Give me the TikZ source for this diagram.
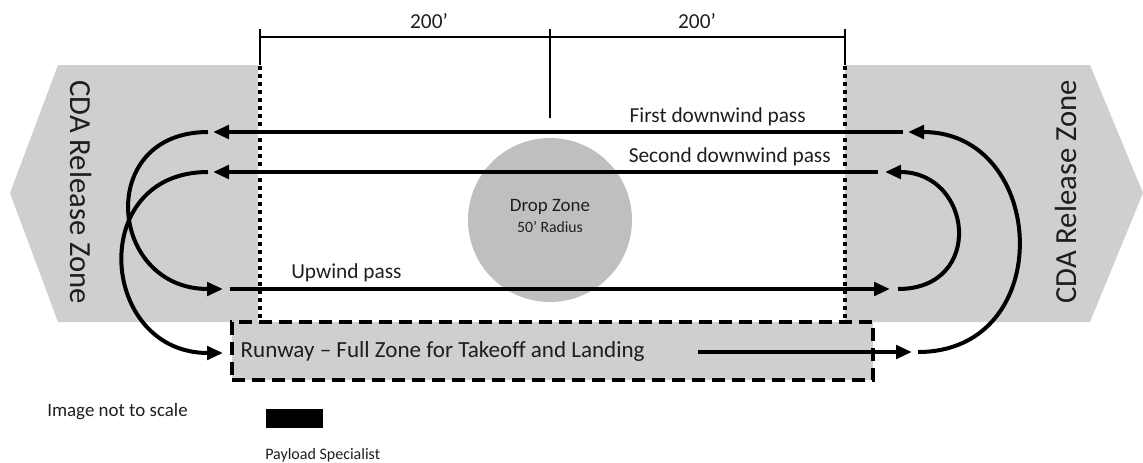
\documentclass[tikz,border=0pt]{standalone}
\usepackage{fontspec}
\setmainfont{Carlito}
\usetikzlibrary{arrows.meta,positioning}
\definecolor{zonegray}{HTML}{D0CECE}
\definecolor{dropgray}{HTML}{BFBFBF}
\definecolor{inkgray}{HTML}{1E1E1E}

\begin{document}
\begin{tikzpicture}[
  x=0.75pt, y=-0.75pt,
  zone/.style={fill=zonegray, draw=none},
  boundary/.style={line width=3pt, dash pattern=on 3pt off 3pt},
  dimline/.style={line width=1.6pt},
  pass/.style={line width=3pt, -{Triangle[length=12pt, width=10pt]}},
  runwaybox/.style={rectangle, fill=zonegray, draw=black, line width=2.4pt, dash pattern=on 10pt off 5pt, minimum width=480.75pt, minimum height=43.5pt, inner sep=0pt},
  dropzone/.style={circle, fill=dropgray, minimum size=123pt, inner sep=0pt},
  label/.style={font=\fontsize{16}{19}\selectfont, text=inkgray, inner sep=0pt},
  zonelabel/.style={font=\fontsize{23}{27}\selectfont, text=inkgray, inner sep=0pt},
  small/.style={font=\fontsize{14.2}{17}\selectfont, text=inkgray, inner sep=0pt}
]
\useasboundingbox (0,0) rectangle (1143,462);

% release zones
\fill[zone] (258,65) -- (58,65) -- (10,193) -- (58,322) -- (258,322) -- cycle;
\fill[zone] (845,65) -- (1090,65) -- (1143,193) -- (1090,322) -- (845,322) -- cycle;
\node[zonelabel, rotate=-90] (cda-l) at (81,192) {CDA Release Zone};
\node[zonelabel, rotate=90] (cda-r) at (1066,192) {CDA Release Zone};

% runway and drop zone
\node[runwaybox] (runway) at (552.5,351) {};
\node[label, font=\fontsize{17.3}{20}\selectfont, right=7.5pt of runway.west] (runway-txt) {Runway -- Full Zone for Takeoff and Landing};
\node[dropzone] (drop) at (550,220) {};
\node[label, font=\fontsize{14.2}{17}\selectfont] (drop-txt) at (550,207) {Drop Zone};
\node[label, font=\fontsize{11.8}{14}\selectfont] (radius-txt) at (550,227) {50’ Radius};

% 200' boundaries
\draw[boundary] (260,66) -- (260,322);
\draw[boundary] (845,66) -- (845,322);
\coordinate (dim-l) at (260,37);
\coordinate (dim-m) at (550,37);
\coordinate (dim-r) at (845,37);
\draw[dimline] (dim-l) -- (dim-r);
\draw[dimline] (260,29) -- (260,65);
\draw[dimline] (845,29) -- (845,65);
\draw[dimline] (550,29) -- (550,118);
\node[label] (dist-l) at (429,21) {200’};
\node[label] (dist-r) at (697,21) {200’};

% pass ends
\coordinate (fd-in) at (903,132);   \coordinate (fd-out) at (213,132);
\coordinate (sd-in) at (878,172);   \coordinate (sd-out) at (213,172);
\coordinate (up-in) at (230,289);   \coordinate (up-out) at (890,289);
\coordinate (rw-in) at (698,352);   \coordinate (rw-out) at (912,352);

% passes
\draw[pass] (fd-in) -- (fd-out);
\draw[pass] (sd-in) -- (sd-out);
\draw[pass] (up-in) -- (up-out);
\draw[pass] (rw-in) -- (rw-out);
\node[label, anchor=east] (fd-txt) at (806,117) {First downwind pass};
\node[label, anchor=east] (sd-txt) at (831,157) {Second downwind pass};
\node[label, anchor=west] (up-txt) at (291,273) {Upwind pass};

% turns
\draw[pass] (208,132) .. controls (95,132) and (108,289) .. (223,289);
\draw[pass] (208,172) .. controls (86,172) and (99,353) .. (223,353);
\draw[pass] (918,352) .. controls (1058,352) and (1048,132) .. (908,132);
\draw[pass] (898,289) .. controls (985,289) and (973,172) .. (885,172);

% legend
\node[small, anchor=west] (scale-txt) at (47,412) {Image not to scale};
\node[fill=black, minimum width=42.75pt, minimum height=14.25pt, inner sep=0pt] (specialist) at (294.5,418.5) {};
\node[small, font=\fontsize{12}{14}\selectfont, anchor=west] (specialist-txt) at (265,455) {Payload Specialist};
\end{tikzpicture}
\end{document}
